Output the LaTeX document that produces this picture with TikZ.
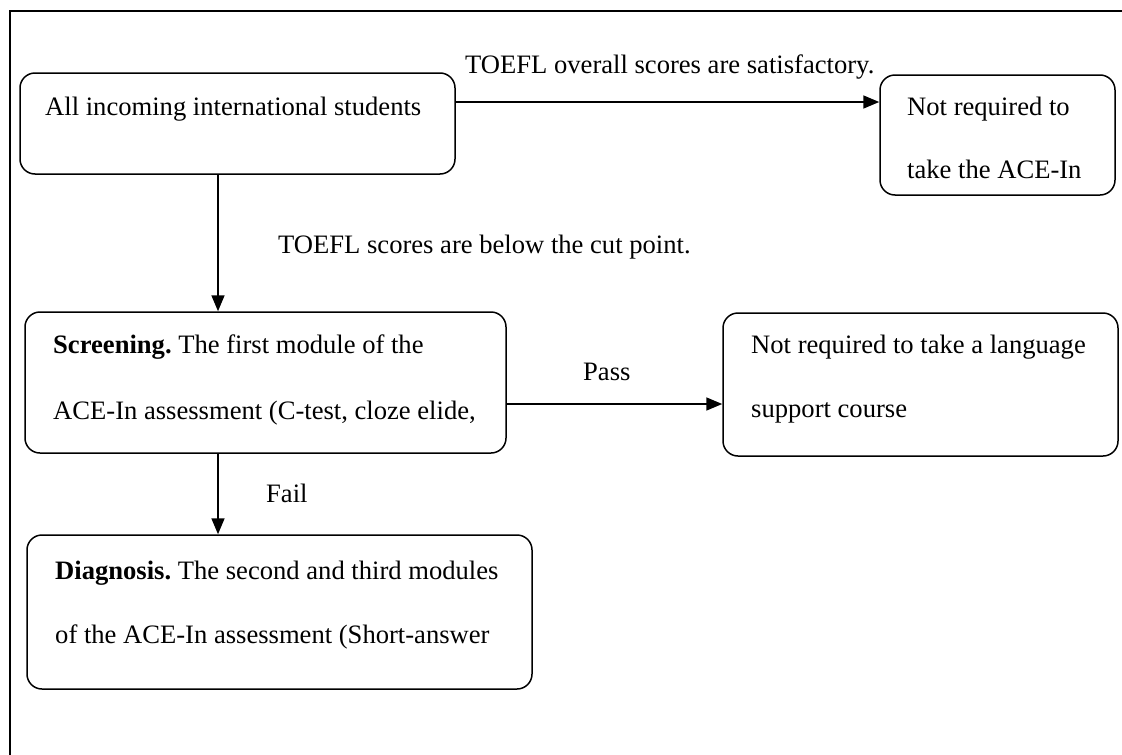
\documentclass[tikz,border=0pt]{standalone}
\usepackage{fontspec}
\setmainfont{Liberation Serif}
\usetikzlibrary{arrows.meta}
\frenchspacing
\begin{document}
\begin{tikzpicture}[x=1pt,y=-1pt,
  box/.style={draw, line width=1.5pt, rounded corners=15pt, inner sep=0pt},
  txt/.style={anchor=base west, inner sep=0pt, font=\fontsize{26.6}{30}\selectfont},
  arr/.style={line width=1.7pt, -{Triangle[length=16pt,width=13pt]}}]
\useasboundingbox (0,0) rectangle (1122,755);
\draw[line width=2pt] (10,755) -- (10,11) -- (1122,11);
% boxes
\node[box, minimum width=435pt, minimum height=101pt] (A) at (237.5,123.5) {};
\node[box, minimum width=235pt, minimum height=120pt] (B) at (997.5,135) {};
\node[box, minimum width=481pt, minimum height=141pt] (C) at (265.5,382.5) {};
\node[box, minimum width=395pt, minimum height=143pt] (D) at (920.5,384.5) {};
\node[box, minimum width=505pt, minimum height=154pt] (E) at (279.5,612) {};
% texts
\node[txt] (tA) at (45,115) {All incoming international students};
\node[txt] (tB1) at (907,115) {Not required to};
\node[txt] (tB2) at (907,178) {take the ACE-In};
\node[txt] (tC1) at (53,353) {\textbf{Screening.} The first module of the};
\node[txt] (tC2) at (53,419) {ACE-In assessment (C-test, cloze elide,};
\node[txt] (tD1) at (751,353) {Not required to take a language};
\node[txt] (tD2) at (751,417) {support course};
\node[txt] (tE1) at (55,579) {\textbf{Diagnosis.} The second and third modules};
\node[txt] (tE2) at (55,643) {of the ACE-In assessment (Short-answer};
% labels
\node[txt] (l1) at (465,73) {TOEFL overall scores are satisfactory.};
\node[txt] (l2) at (278,253) {TOEFL scores are below the cut point.};
\node[txt] (l3) at (583,380) {Pass};
\node[txt] (l4) at (266,502) {Fail};
% connectors
\draw[arr] (A.east |- 0,102) -- (B.west |- 0,102);
\draw[arr] (A.south -| 218,0) -- (C.north -| 218,0);
\draw[arr] (C.east |- 0,404) -- (D.west |- 0,404);
\draw[arr] (C.south -| 218,0) -- (E.north -| 218,0);
\end{tikzpicture}
\end{document}
